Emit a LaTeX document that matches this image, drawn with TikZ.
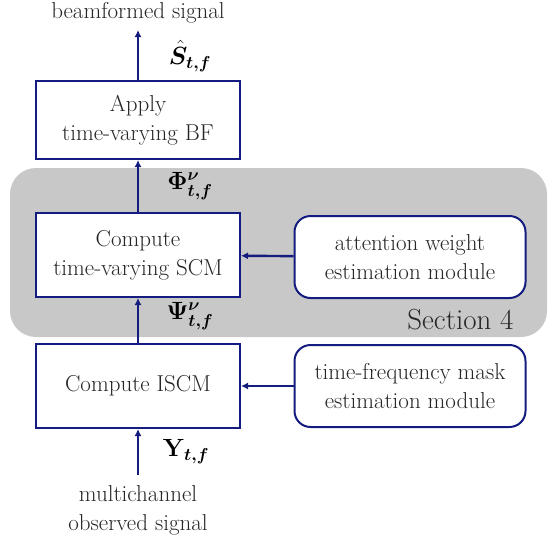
\documentclass[tikz,border=0pt]{standalone}
\usepackage{amsmath,bm}
\usetikzlibrary{arrows.meta}
\definecolor{navy}{RGB}{20,28,128}
\definecolor{panel}{RGB}{200,200,200}
\begin{document}
\begin{tikzpicture}[x=1pt,y=-1pt,
  txt/.style={font=\fontsize{23}{29}\selectfont,align=center,text=black!85},
  blk/.style={txt,draw=navy,line width=2pt,fill=white,minimum width=204pt,inner sep=0pt},
  mod/.style={txt,draw=navy,line width=2pt,fill=white,rounded corners=16pt,minimum width=231pt,minimum height=82pt,inner sep=0pt},
  flow/.style={draw=navy,line width=2.4pt,-{Latex[length=7pt,width=7pt]}},
  lab/.style={font=\fontsize{24}{28}\selectfont}]
\useasboundingbox (0,0) rectangle (551,541);
\fill[panel,rounded corners=26pt] (10,168) rectangle (547,337);
\node[blk,minimum height=78pt] (bf) at (138,120) {Apply\\time-varying BF};
\node[blk,minimum height=84pt] (scm) at (138,255) {Compute\\time-varying SCM};
\node[blk,minimum height=84pt] (iscm) at (138,386) {Compute ISCM};
\node[mod] (att) at (410,257) {attention weight\\estimation module};
\node[mod] (tfm) at (410,386) {time-frequency mask\\estimation module};
\coordinate (out) at (138,30);
\coordinate (in) at (138,475);
\node[txt] (outl) at (138,13) {beamformed signal};
\node[txt] (inl) at (138,510) {multichannel\\observed signal};
\node[font=\fontsize{29}{33}\selectfont,anchor=east,text=black!85] (sec) at (517,320) {Section 4};
\draw[flow] (bf) -- (out);
\draw[flow] (scm) -- (bf);
\draw[flow] (iscm) -- (scm);
\draw[flow] (in) -- (iscm);
\draw[flow] (att) -- (scm);
\draw[flow] (tfm) -- (iscm);
\node[lab] (sl) at (190,56) {$\hat{\bm S}_{\bm{t,f}}$};
\node[lab] (pl) at (190,186) {$\bm{\Phi}^{\bm\nu}_{\bm{t,f}}$};
\node[lab] (ql) at (190,316) {$\bm{\Psi}^{\bm\nu}_{\bm{t,f}}$};
\node[lab] (yl) at (186,452) {$\mathbf{Y}_{\bm{t,f}}$};
\end{tikzpicture}
\end{document}
